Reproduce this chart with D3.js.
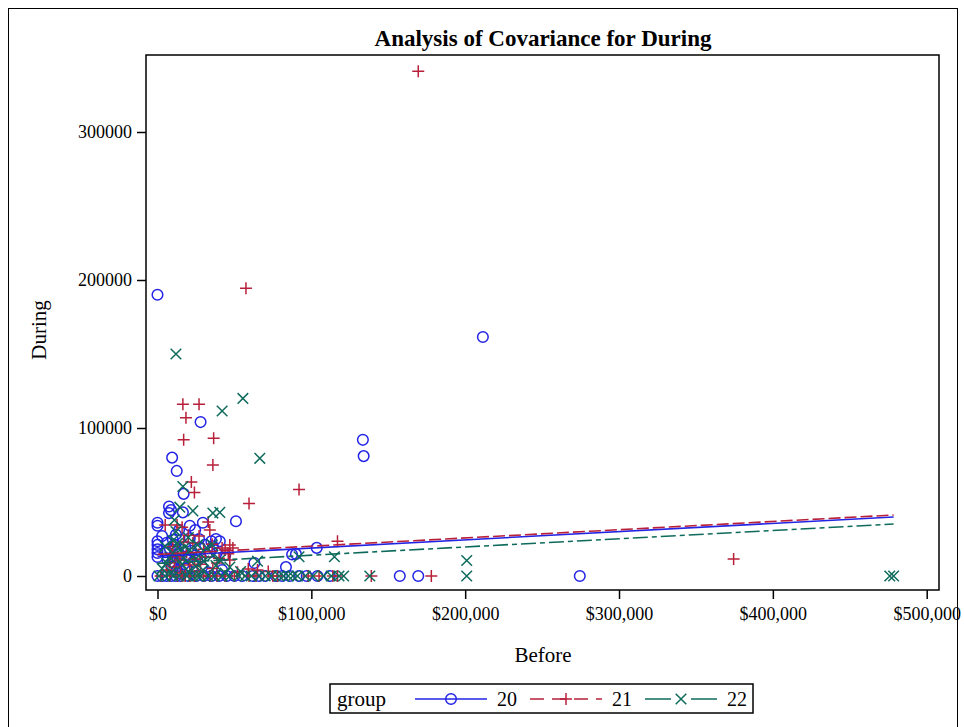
<!DOCTYPE html>
<html>
<head>
<meta charset="utf-8">
<script src="https://cdn.jsdelivr.net/npm/d3@7"></script>
<style>
body { margin:0; background:#fff; }
text { font-family:"Liberation Serif", "Times New Roman", serif; }
</style>
</head>
<body>
<script>
// data: [Before, During]
var group20 = [
  [0,190000],[211500,161500],[133500,92000],[134000,81000],[28000,104000],[9500,80000],[12500,71000],
  [17000,55500],[51000,37000],[103500,19000],[87500,14500],[90000,14800],[63000,8800],[83500,6000],
  [0,36000],[0,34000],[0,23500],[0,21000],[0,18000],[0,15500],[0,12800],
  [7500,47000],[8800,44500],[7500,42500],[16500,43000],[21000,34000],[29500,36000],[24500,31000],
  [38000,25000],[35000,23500],[40500,23500],[21000,25500],[10000,24500],[6000,22500],[16000,17500],
  [27500,19500],[34000,16000],[38500,15500],[44000,14000],[10000,13000],[14500,11000],[23000,9500],
  [29000,6000],[9500,9000],[12500,4000],[5000,16000],[18000,20000],[12000,28000],[3000,27000],
  [25000,14000],[31000,21000],[19000,5000],[33000,2500],[15000,1500],[42000,4000],
  [8000,18500],[11000,21000],[14000,15000],[20000,12500],[6500,11000],[9000,6500],[17000,8000],
  [26000,10500],[36000,20000],[22000,17000],[12000,2500],[27000,25000],[14000,31000],
  [0,0],[3000,0],[6000,0],[9000,0],[12000,0],[15000,0],[20000,0],[25000,0],[30000,0],[35000,0],
  [40000,0],[45000,0],[50000,0],[55000,0],[62000,0],[66000,0],[70000,0],[77000,0],[81000,0],
  [86000,0],[92000,0],[97000,0],[104000,0],[112000,0],
  [157500,0],[169500,0],[274500,0]
];
var group21 = [
  [169500,341000],[57500,194500],[16500,116000],[27000,116000],[18500,107000],[17000,92000],
  [36500,93000],[36000,75000],[22000,63500],[24000,56500],[59500,49000],[92000,58500],[117000,23500],
  [374500,11500],
  [5000,34500],[12700,34500],[16000,33000],[34000,31000],[33000,36500],[35500,21500],[42000,19000],
  [47000,21000],[46000,15000],[49000,19000],[59000,4700],[23000,22300],[31000,12800],[38700,8800],
  [14600,10800],[6000,4000],[21000,7400],[47000,10800],[44000,17600],[10000,20000],[27000,27000],
  [19000,16000],[13000,13000],[8000,9000],[26000,3000],[52000,2500],[30000,18000],[17000,23000],
  [40000,12000],[65000,4000],[72000,3000],
  [11000,6000],[15000,2000],[24000,11500],[20000,27500],[9000,15000],[36000,5000],[28000,8000],
  [2000,0],[8000,0],[13000,0],[16000,0],[18000,0],[21000,0],[24000,0],[30000,0],[34000,0],[38700,0],
  [44000,0],[50000,0],[59500,0],[64000,0],[75000,0],[78000,0],[98000,0],[105000,0],[114000,0],
  [117000,0],[139000,0],[178000,0]
];
var group22 = [
  [12000,150000],[55500,120000],[42000,111500],[66500,79500],[16500,60500],[36000,42500],
  [40500,43000],[23000,44000],[14500,46500],[201000,10500],[201000,0],[115000,13000],[92000,13000],
  [65000,10000],[476000,0],[478500,0],
  [11000,37800],[10000,24000],[13000,22000],[18000,19600],[21000,17600],[32000,19000],[26000,21000],
  [8000,12800],[40600,10800],[47000,6000],[29600,4000],[6000,8800],[14600,17600],[10000,15500],
  [23000,12800],[35500,21000],[12000,30000],[20000,26000],[16000,8000],[25000,6500],[36000,14000],
  [5000,20000],[54000,3000],[30000,10000],
  [3000,5000],[17000,12000],[28000,15000],[20000,3000],[44000,2000],[9000,2500],[38000,7000],
  [1000,0],[5000,0],[10000,0],[14000,0],[19000,0],[23000,0],[26000,0],[28000,0],[33000,0],
  [37000,0],[42000,0],[47000,0],[53000,0],[57000,0],[61000,0],[66000,0],[70000,0],[74000,0],
  [79000,0],[82000,0],[85000,0],[88000,0],[91000,0],[96000,0],[101000,0],[108000,0],[113000,0],
  [118000,0],[121000,0],[138000,0]
];
// fitted lines (common slope, per-group intercept)
var groups = ["20","21","22"];
var intercepts = [13300, 14600, 8500];
var slope = 0.0556;
var fitRange = [0, 478500];
var xTicks = [0,100000,200000,300000,400000,500000];
var yTicks = [0,100000,200000,300000];

var W = 964, H = 727;
var colors = ["#2323e6","#b8203a","#0e6b5c"];
var dashes = [null, "12,4", "15,4,5,4"];

var svg = d3.select("body").append("svg").attr("width", W).attr("height", H);

// outer border
svg.append("rect").attr("x",8.5).attr("y",8.5).attr("width",949).attr("height",740)
  .attr("fill","none").attr("stroke","#000").attr("stroke-width",1);

var frame = {left:146, right:939, top:55, bottom:590};

var x = d3.scaleLinear().domain([0,500000]).range([157.5,926.7]);
var y = d3.scaleLinear().domain([0,300000]).range([576,132]);

// axes
var fmtX = function(d){ return "$" + d3.format(",")(d); };
svg.append("g").attr("transform","translate(0,"+frame.bottom+")")
  .call(d3.axisBottom(x).tickValues(xTicks).tickFormat(fmtX).tickSize(9).tickPadding(8))
  .call(function(g){ g.select(".domain").remove(); });
svg.append("g").attr("transform","translate("+frame.left+",0)")
  .call(d3.axisLeft(y).tickValues(yTicks).tickFormat(d3.format("d")).tickSize(9).tickPadding(5))
  .call(function(g){ g.select(".domain").remove(); });
svg.selectAll(".tick line").attr("stroke","#000").attr("stroke-width",1.5);
svg.selectAll(".tick text").attr("font-size",18).attr("font-family","Liberation Serif").attr("fill","#000");

// plot clip
svg.append("clipPath").attr("id","clip").append("rect")
  .attr("x",frame.left).attr("y",frame.top)
  .attr("width",frame.right-frame.left).attr("height",frame.bottom-frame.top);
var plot = svg.append("g").attr("clip-path","url(#clip)");

function drawMarker(g, i, cx, cy){
  var c = colors[i];
  if(i==0){
    g.append("circle").attr("cx",cx).attr("cy",cy).attr("r",5.3)
      .attr("fill","none").attr("stroke",c).attr("stroke-width",1.5);
  } else if(i==1){
    g.append("path").attr("d","M"+(cx-6)+","+cy+"H"+(cx+6)+"M"+cx+","+(cy-6)+"V"+(cy+6))
      .attr("stroke",c).attr("stroke-width",1.5).attr("fill","none");
  } else {
    g.append("path").attr("d","M"+(cx-5.3)+","+(cy-5.3)+"L"+(cx+5.3)+","+(cy+5.3)+"M"+(cx-5.3)+","+(cy+5.3)+"L"+(cx+5.3)+","+(cy-5.3))
      .attr("stroke",c).attr("stroke-width",1.5).attr("fill","none");
  }
}

[group20, group21, group22].forEach(function(data, i){
  var g = plot.append("g");
  data.forEach(function(d){ drawMarker(g, i, x(d[0]), y(d[1])); });
});

// fit lines
var line = d3.line().x(function(d){ return x(d[0]); }).y(function(d){ return y(d[1]); });
intercepts.forEach(function(b, i){
  var pts = fitRange.map(function(v){ return [v, b + slope*v]; });
  plot.append("path").attr("d", line(pts)).attr("fill","none")
    .attr("stroke",colors[i]).attr("stroke-width",1.6)
    .attr("stroke-dasharray",dashes[i]);
});

// frame
svg.append("rect").attr("x",frame.left).attr("y",frame.top)
  .attr("width",frame.right-frame.left).attr("height",frame.bottom-frame.top)
  .attr("fill","none").attr("stroke","#000").attr("stroke-width",1.5);

// title and labels
svg.append("text").attr("x",543).attr("y",46).attr("text-anchor","middle")
  .attr("font-size",23).attr("font-weight","bold").text("Analysis of Covariance for During");
svg.append("text").attr("x",543).attr("y",662).attr("text-anchor","middle")
  .attr("font-size",21).text("Before");
svg.append("text").attr("transform","translate(46,330) rotate(-90)").attr("text-anchor","middle")
  .attr("font-size",21).text("During");

// legend
var lg = svg.append("g");
lg.append("rect").attr("x",330).attr("y",684).attr("width",423).attr("height",29)
  .attr("fill","none").attr("stroke","#000").attr("stroke-width",1.5);
lg.append("text").attr("x",337).attr("y",706).attr("font-size",21).text("group");
var legX = [415, 530, 645];
groups.forEach(function(gname, i){
  var x0 = legX[i], x1 = x0 + 72, ly = 699;
  lg.append("line").attr("x1",x0).attr("x2",x1).attr("y1",ly).attr("y2",ly)
    .attr("stroke",colors[i]).attr("stroke-width",1.5).attr("stroke-dasharray", i==1 ? "14,8" : (i==2 ? "26,20" : null));
  drawMarker(lg, i, (x0+x1)/2, ly);
  lg.append("text").attr("x",x1+10).attr("y",706).attr("font-size",20).text(gname);
});
</script>
</body>
</html>
